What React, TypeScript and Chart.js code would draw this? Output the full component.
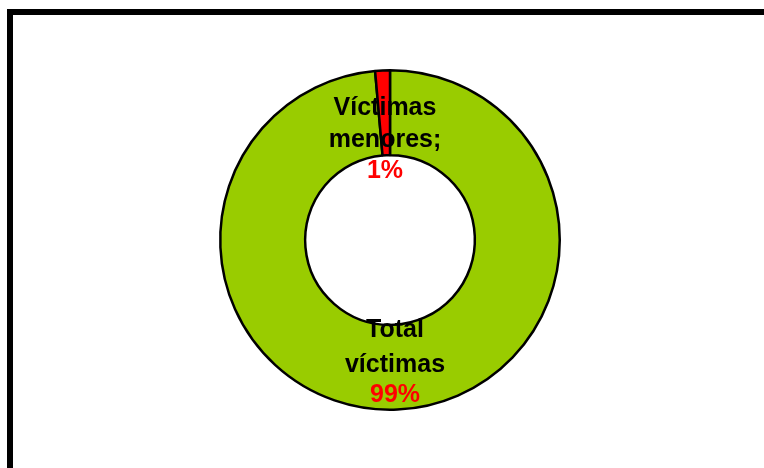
import React, { useEffect, useRef } from "react";
import { Chart, registerables } from "chart.js";

Chart.register(...registerables);

const categories = ["Total víctimas", "Víctimas menores"];
const values = [98.6, 1.4];
const percentLabels = ["99%", "1%"];
const nameLines = [["Total", "víctimas"], ["Víctimas", "menores;"]];
const colors = ["#99CC00", "#FF0000"];

const labelPlugin = {
  id: "sliceLabels",
  afterDraw(chart: any) {
    const ctx = chart.ctx;
    const meta = chart.getDatasetMeta(0);
    ctx.save();
    ctx.font = "bold 25px 'Liberation Sans', Arial, sans-serif";
    ctx.textAlign = "center";
    ctx.textBaseline = "alphabetic";
    meta.data.forEach((arc: any, i: number) => {
      const { x, y } = arc.getProps(["x", "y"], true);
      const cx = i === 1 ? x - 5 : x + 5;
      const bases = i === 1 ? [y - 125, y - 93, y - 62] : [y + 97, y + 132, y + 162];
      const lines = nameLines[i];
      lines.forEach((t, k) => {
        ctx.fillStyle = "#000000";
        ctx.fillText(t, cx, bases[k]);
      });
      ctx.fillStyle = "#FF0000";
      ctx.fillText(percentLabels[i], cx, bases[lines.length]);
    });
    ctx.restore();
  },
};

export default function App() {
  const ref = useRef<HTMLCanvasElement>(null);
  useEffect(() => {
    document.body.style.margin = "0";
    const chart = new Chart(ref.current!, {
      type: "doughnut",
      data: {
        labels: categories,
        datasets: [
          {
            data: values,
            backgroundColor: colors,
            borderColor: "#000000",
            borderWidth: 2.5,
            borderAlign: "center",
          },
        ],
      },
      options: {
        animation: false,
        responsive: false,
        cutout: "50%",
        rotation: 0,
        layout: { padding: { top: 69, bottom: 57, left: 16, right: 0 } },
        plugins: { legend: { display: false }, tooltip: { enabled: false } },
      },
      plugins: [labelPlugin],
    });
    return () => chart.destroy();
  }, []);
  return (
    <div style={{ position: "relative", width: 764, height: 468, overflow: "hidden", background: "#fff" }}>
      <div
        style={{
          position: "absolute",
          left: 7,
          top: 9,
          width: 900,
          height: 600,
          border: "6px solid #000",
          boxSizing: "border-box",
        }}
      />
      <canvas ref={ref} width={764} height={468} style={{ position: "absolute", left: 0, top: 0 }} />
    </div>
  );
}
